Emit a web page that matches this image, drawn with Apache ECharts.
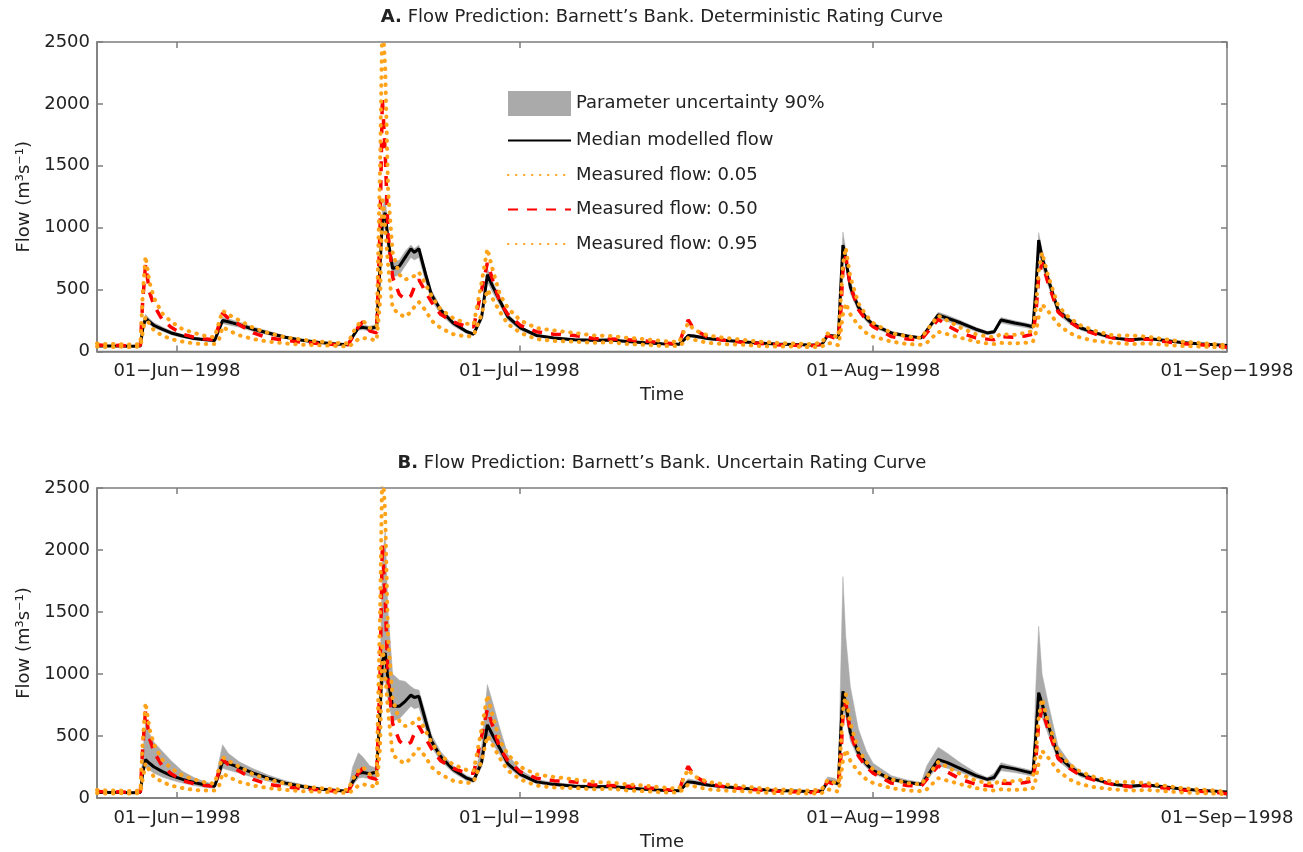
<!DOCTYPE html>
<html>
<head>
<meta charset="utf-8">
<script src="https://cdn.jsdelivr.net/npm/echarts@6/dist/echarts.min.js"></script>
<style>
  html, body { margin: 0; padding: 0; background: #fff; }
  #flow-chart { width: 1303px; height: 852px; }
</style>
</head>
<body>
<div id="flow-chart"></div>
<script>
// time of each sample, in days after 25-May-1998
const dayOffsets = [0,1,2,3,3.8,4.0,4.25,4.6,5.0,5.7,
  6.5,7.5,8.5,9.5,10.3,10.7,11.0,11.5,12.5,13.7,
  15.0,16.5,18.0,19.5,21.0,22.0,22.4,22.9,23.3,23.9,
  24.5,24.8,25.0,25.25,25.5,25.9,26.5,27.0,27.5,27.8,
  28.2,28.8,29.3,30.1,31.2,32.4,33.0,33.7,34.2,34.7,
  35.3,36.0,37.1,38.5,40.0,41.8,43.5,45.0,46.5,48.0,
  49.5,51.0,51.5,51.8,52.3,53.5,55.0,56.5,58.0,59.5,
  61.0,62.5,63.5,64.0,64.6,64.95,65.15,65.35,65.6,66.0,
  66.7,67.4,68.0,69.6,71.0,72.2,72.7,73.7,74.5,75.7,
  77.0,78.0,78.6,79.2,80.4,81.3,82.0,82.25,82.5,82.8,
  83.3,84.2,85.2,86.2,87.5,89.0,90.5,92.0,93.5,95.0,
  96.5,98.0,99.0];

// panel A: deterministic rating curve
const medianA = [45,45,45,42,45,180,270,240,210,180,
  150,125,105,95,88,180,250,240,215,180,
  150,115,90,72,60,55,120,190,195,185,
  200,700,1050,1120,900,670,690,760,830,800,
  830,620,460,335,230,160,140,280,620,520,
  410,280,190,130,110,95,90,92,80,70,
  62,58,100,130,125,105,90,78,68,60,
  56,52,55,130,125,115,500,860,750,520,
  360,270,215,150,125,110,170,295,270,230,
  180,150,160,255,230,215,200,500,900,760,
  595,335,250,190,150,110,95,105,90,72,
  62,55,48];
const lowerA = [40,40,40,38,40,160,245,220,190,165,
  135,112,95,85,80,160,225,215,195,162,
  135,104,81,65,54,50,108,172,175,167,
  180,630,950,1010,800,600,620,690,760,740,
  760,560,415,300,207,144,126,250,560,470,
  370,252,171,117,99,86,81,83,72,63,
  56,52,90,117,112,95,81,70,61,54,
  50,47,50,117,112,104,450,780,680,470,
  325,243,194,135,112,99,153,265,243,207,
  162,135,144,230,207,194,180,450,810,690,
  540,300,225,171,135,99,86,95,81,65,
  56,50,43];
const upperA = [50,50,50,47,50,200,300,265,232,200,
  165,138,116,105,97,200,275,265,237,198,
  165,126,99,79,66,60,132,208,214,203,
  220,770,1150,1250,980,720,740,810,860,830,
  860,660,495,360,248,173,152,305,670,560,
  440,302,205,140,119,103,97,99,86,76,
  67,63,108,140,135,113,97,84,73,65,
  60,56,60,140,135,124,560,965,820,570,
  390,292,232,162,135,119,184,318,292,248,
  195,162,173,275,248,232,216,560,960,820,
  640,360,270,205,162,119,103,113,97,78,
  67,60,52];

// panel B: uncertain rating curve
const medianB = [45,45,45,42,45,200,310,280,250,215,
  180,150,125,105,95,200,295,280,245,200,
  160,120,92,72,60,55,130,200,205,195,
  210,700,1100,1170,950,740,740,780,830,810,
  820,620,460,335,230,160,140,290,590,500,
  400,275,190,130,110,95,90,92,80,70,
  62,58,100,130,125,105,90,78,68,60,
  56,52,55,130,125,115,500,860,760,530,
  365,275,220,150,125,110,170,310,285,235,
  180,150,165,255,235,215,200,500,850,760,
  600,340,255,190,150,110,95,105,90,72,
  62,55,48];
const lowerB = [38,38,38,36,38,160,250,225,200,170,
  145,120,100,85,78,160,240,225,200,165,
  135,100,78,62,52,48,100,160,165,155,
  170,560,900,950,780,620,640,690,740,720,
  730,550,410,300,205,140,125,250,500,430,
  350,245,170,117,98,85,80,82,71,62,
  55,52,90,115,110,93,80,70,60,53,
  50,46,48,115,110,100,420,720,650,460,
  320,245,195,135,112,98,140,260,240,205,
  160,135,140,220,205,190,175,420,700,650,
  520,300,225,170,135,99,85,94,81,65,
  56,49,43];
const upperB = [55,55,55,52,55,350,610,520,450,380,
  300,215,165,130,110,300,430,360,290,235,
  185,140,108,85,70,65,250,365,330,260,
  240,1000,1900,2165,1500,1000,950,940,900,880,
  870,680,510,375,260,180,160,420,915,760,
  560,350,225,150,125,108,102,105,90,80,
  70,65,130,155,145,118,100,86,75,66,
  62,58,75,170,160,140,1000,1786,1300,900,
  560,380,280,180,145,125,260,410,360,280,
  205,165,200,285,255,235,220,900,1385,1000,
  780,420,290,210,165,120,104,115,99,79,
  68,60,53];

// measured flow quantiles (same in both panels)
const measured05 = [40,35,40,35,40,150,280,220,170,130,
  100,80,65,60,60,100,200,170,130,100,
  80,65,55,50,45,40,60,100,110,100,
  90,400,1250,1000,700,350,300,280,320,360,
  400,330,250,190,140,120,130,300,500,420,
  320,220,150,100,85,80,70,75,60,55,
  45,45,80,110,95,70,60,55,45,40,
  40,35,40,70,60,50,150,300,390,300,
  210,150,120,80,60,55,70,160,140,110,
  80,65,60,70,65,70,80,150,280,380,
  330,220,150,110,85,70,60,65,55,45,
  40,35,30];
const measured50 = [55,45,50,45,50,400,700,480,370,260,
  195,140,115,100,95,220,310,270,215,150,
  110,90,75,65,55,55,120,200,240,165,
  150,1000,2050,1600,950,600,460,420,450,520,
  580,480,400,300,240,200,200,500,715,570,
  400,300,210,160,140,130,105,100,95,85,
  70,60,200,255,180,115,90,75,65,55,
  50,45,60,130,110,100,300,650,770,530,
  340,250,200,120,100,95,150,260,210,150,
  110,100,95,120,115,125,140,300,600,720,
  560,320,240,180,140,110,90,100,80,65,
  55,45,35];
const measured95 = [65,60,60,55,60,450,770,560,430,310,
  240,180,150,125,115,240,330,300,250,190,
  150,115,95,80,70,65,150,220,250,190,
  200,1500,2700,2300,1300,800,620,580,600,610,
  640,540,450,340,270,225,220,560,830,650,
  460,350,250,190,170,150,130,125,110,100,
  85,75,180,230,175,130,110,95,80,70,
  65,60,70,145,125,115,400,700,840,600,
  390,290,230,150,120,110,170,290,250,190,
  140,120,115,140,135,150,165,350,650,800,
  620,370,270,210,165,130,130,120,100,80,
  70,60,50];

const yTicks = { min: 0, max: 2500, interval: 500 };
const monthNames = ['Jan','Feb','Mar','Apr','May','Jun','Jul','Aug','Sep','Oct','Nov','Dec'];

const DAY = 86400000;
const t0 = new Date(1998, 4, 25).getTime();
const tEnd = new Date(1998, 8, 1).getTime();
const monthTicks = [new Date(1998, 5, 1).getTime(), new Date(1998, 6, 1).getTime(),
                    new Date(1998, 7, 1).getTime(), new Date(1998, 8, 1).getTime()];

const FONT = 'DejaVu Sans';
const AXIS_GREY = '#7d7d7d';
const BAND_GREY = '#aaaaaa';

function toPairs(vals) {
    return dayOffsets.map(function (d, i) { return [t0 + d * DAY, vals[i]]; });
}

function toBand(lo, hi) {
    return dayOffsets.map(function (d, i) { return [t0 + d * DAY, lo[i], hi[i]]; });
}

function dateLabel(v) {
    let d = new Date(v);
    let day = d.getDate();
    if (day < 10) {
        day = '0' + day;
    }
    return day + '\u2212' + monthNames[d.getMonth()] + '\u2212' + d.getFullYear();
}

// whole band as one polygon: upper edge left->right, lower edge back
function renderBand(params, api) {
    if (params.dataIndex !== 0) {
        return null;
    }
    let n = params.dataInsideLength;
    let pts = [];
    for (let i = 0; i < n; i++) {
        pts.push(api.coord([api.value(0, i), api.value(2, i)]));
    }
    for (let i = n - 1; i >= 0; i--) {
        pts.push(api.coord([api.value(0, i), api.value(1, i)]));
    }
    return {
        type: 'polygon',
        shape: {points: pts},
        style: {fill: BAND_GREY, stroke: BAND_GREY, lineWidth: 0.5}
    };
}

// x axis: value axis holding timestamps, ticks only on the 1st of each month
function makeX(gridIndex, top) {
    return {
        type: 'value',
        gridIndex: gridIndex,
        position: top ? 'top' : 'bottom',
        min: t0,
        max: tEnd,
        name: top ? '' : 'Time',
        nameLocation: 'middle',
        nameGap: 35,
        nameTextStyle: {fontFamily: FONT, fontSize: 18, color: '#222'},
        axisLine: {show: !top, onZero: false, lineStyle: {color: AXIS_GREY, width: 1.5}},
        axisTick: {show: true, inside: true, length: 6, customValues: monthTicks,
                   lineStyle: {color: AXIS_GREY, width: 1.5}},
        axisLabel: {show: !top, customValues: monthTicks, formatter: dateLabel,
                    margin: 11, fontFamily: FONT, fontSize: 18, color: '#222'},
        splitLine: {show: false}
    };
}

function makeY(gridIndex, right) {
    return {
        type: 'value',
        gridIndex: gridIndex,
        position: right ? 'right' : 'left',
        min: yTicks.min,
        max: yTicks.max,
        interval: yTicks.interval,
        name: right ? '' : 'Flow (m\u00b3s\u207b\u00b9)',
        nameLocation: 'middle',
        nameGap: 52,
        nameTextStyle: {fontFamily: FONT, fontSize: 18, color: '#222'},
        axisLine: {show: !right, onZero: false, lineStyle: {color: AXIS_GREY, width: 1.5}},
        axisTick: {show: true, inside: true, length: 6, lineStyle: {color: AXIS_GREY, width: 1.5}},
        axisLabel: {show: !right, margin: 7, fontFamily: FONT, fontSize: 18, color: '#222',
                    formatter: function (v) { return String(v); }},
        splitLine: {show: false}
    };
}

function panelSeries(gi, lower, upper, median) {
    let ax = {xAxisIndex: gi * 2, yAxisIndex: gi * 2};
    let base = Object.assign({type: 'line', symbol: 'none', showSymbol: false, animation: false}, ax);
    return [
        Object.assign({}, ax, {
            type: 'custom',
            name: 'Parameter uncertainty 90%',
            data: toBand(lower, upper),
            encode: {x: 0, y: [1, 2]},
            itemStyle: {color: BAND_GREY},
            renderItem: renderBand,
            clip: true,
            silent: true
        }),
        Object.assign({}, base, {
            name: 'Median modelled flow',
            data: toPairs(median),
            color: '#000000',
            lineStyle: {color: '#000000', width: 3}
        }),
        Object.assign({}, base, {
            name: 'Measured flow: 0.50',
            data: toPairs(measured50),
            color: '#ff0000',
            lineStyle: {color: '#ff0000', width: 3.5, type: [10, 9]}
        }),
        Object.assign({}, base, {
            name: 'Measured flow: 0.05',
            data: toPairs(measured05),
            color: '#ffa31a',
            lineStyle: {color: '#ffa31a', width: 4, type: [0.5, 7.5], cap: 'round'}
        }),
        Object.assign({}, base, {
            name: 'Measured flow: 0.95',
            data: toPairs(measured95),
            color: '#ffa31a',
            lineStyle: {color: '#ffa31a', width: 4, type: [0.5, 7.5], cap: 'round'}
        })
    ];
}

var chartDom = document.getElementById('flow-chart');
var flowChart = echarts.init(chartDom, null, {renderer: 'canvas'});

var titleStyle = {fontFamily: FONT, fontSize: 18, fontWeight: 'normal', color: '#222',
                  rich: {b: {fontFamily: FONT, fontSize: 18, fontWeight: 'bold', color: '#222'}}};

var option = {
    backgroundColor: '#ffffff',
    animation: false,
    textStyle: {fontFamily: FONT},
    title: [
        {
            text: '{b|A.} Flow Prediction: Barnett\u2019s Bank. Deterministic Rating Curve',
            left: 657, top: 3, textAlign: 'center',
            textStyle: titleStyle
        },
        {
            text: '{b|B.} Flow Prediction: Barnett\u2019s Bank. Uncertain Rating Curve',
            left: 657, top: 449, textAlign: 'center',
            textStyle: titleStyle
        }
    ],
    legend: {
        orient: 'vertical',
        left: 502,
        top: 86,
        itemWidth: 63,
        itemHeight: 25,
        itemGap: 14.5,
        selectedMode: false,
        itemStyle: {opacity: 0},
        textStyle: {fontFamily: FONT, fontSize: 18, color: '#222'},
        data: [
            {name: 'Parameter uncertainty 90%', icon: 'rect', itemStyle: {opacity: 1, color: BAND_GREY}},
            'Median modelled flow',
            'Measured flow: 0.05',
            'Measured flow: 0.50',
            'Measured flow: 0.95'
        ]
    },
    grid: [
        {left: 97, right: 76, top: 42, height: 309.5, show: true, borderColor: AXIS_GREY, borderWidth: 1.5,
         backgroundColor: 'transparent'},
        {left: 97, right: 76, top: 488, height: 311, show: true, borderColor: AXIS_GREY, borderWidth: 1.5,
         backgroundColor: 'transparent'}
    ],
    xAxis: [makeX(0, false), makeX(0, true), makeX(1, false), makeX(1, true)],
    yAxis: [makeY(0, false), makeY(0, true), makeY(1, false), makeY(1, true)],
    series: panelSeries(0, lowerA, upperA, medianA).concat(panelSeries(1, lowerB, upperB, medianB))
};

option && flowChart.setOption(option);
</script>
</body>
</html>
